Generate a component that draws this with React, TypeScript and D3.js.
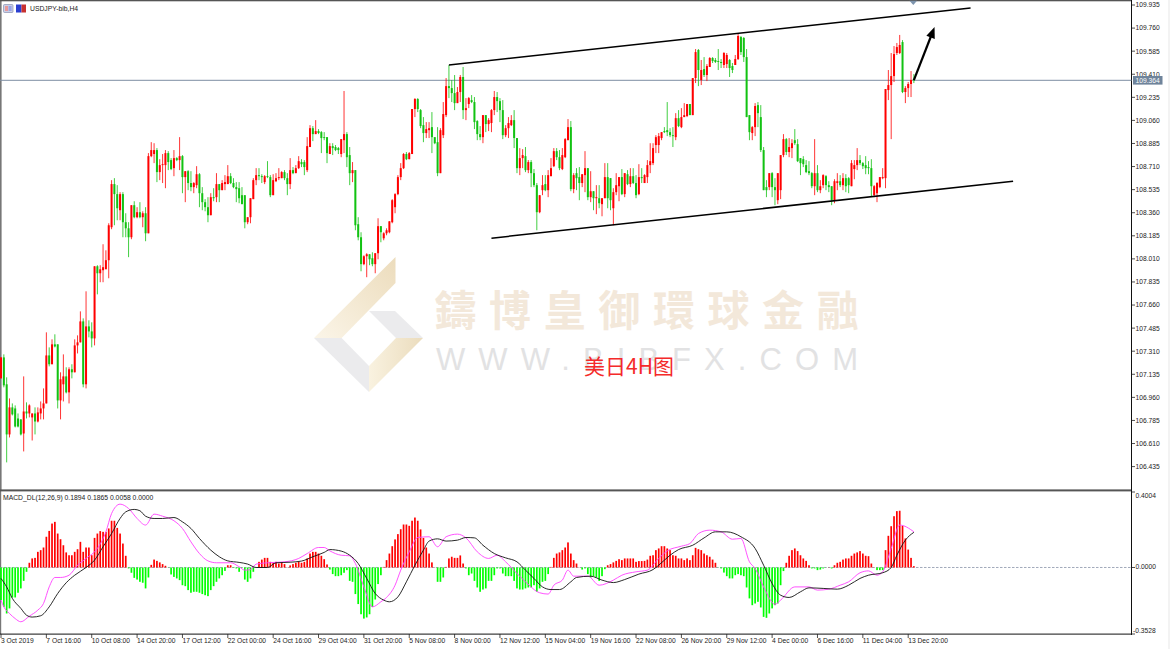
import React from "react";
import * as d3 from "d3";

// [open, high, low, close] per 4H bar
const octBars = [
[107.104,107.263,107.104,107.263],[107.263,107.286,107.036,107.051],[107.059,107.112,106.467,106.679],[106.679,106.952,106.656,106.884],[106.884,106.914,106.823,106.831],[106.876,106.899,106.732,106.739],[106.800,106.838,106.732,106.739],[106.793,106.793,106.671,106.679],[106.686,107.119,106.550,106.853],[106.853,106.922,106.800,106.838],
[106.838,106.907,106.808,106.899],[106.808,106.838,106.633,106.838],[106.838,106.884,106.679,106.777],[106.777,106.884,106.770,106.846],[106.838,106.929,106.793,106.876],[106.876,107.028,106.793,106.914],[106.914,107.453,106.914,107.278],[107.278,107.339,107.195,107.211],[107.211,107.400,107.211,107.362],[107.362,107.438,107.339,107.346],
[107.362,107.362,106.876,106.937],[106.937,107.150,106.793,107.097],[107.059,107.286,106.929,107.119],[107.119,107.188,106.990,106.998],[106.998,107.188,106.914,107.173],[107.173,107.211,107.104,107.150],[107.150,107.400,107.150,107.354],[107.354,107.430,107.293,107.377],[107.377,107.612,107.377,107.536],[107.536,107.559,107.036,107.059],
[107.059,107.764,107.028,107.498],[107.498,107.544,107.415,107.460],[107.460,107.529,107.339,107.407],[107.407,107.954,107.354,107.954],[107.954,107.962,107.741,107.901],[107.901,107.962,107.833,107.931],[107.924,108.121,107.833,107.947],[107.931,108.075,107.939,108.000],[108.000,108.280,107.863,108.265],[108.250,108.607,108.235,108.577],
[108.577,108.622,108.265,108.501],[108.501,108.569,108.303,108.394],[108.379,108.516,108.303,108.501],[108.501,108.516,108.174,108.288],[108.288,108.356,108.174,108.242],[108.242,108.288,108.023,108.174],[108.174,108.417,108.159,108.417],[108.417,108.447,108.318,108.326],[108.326,108.402,108.318,108.364],[108.364,108.440,108.318,108.326],
[108.326,108.371,108.250,108.356],[108.356,108.402,108.144,108.204],[108.204,108.812,108.204,108.789],[108.789,108.895,108.781,108.835],[108.805,108.887,108.736,108.835],[108.835,108.850,108.592,108.668],[108.668,108.766,108.607,108.721],[108.721,108.805,108.585,108.728],[108.721,108.835,108.546,108.812],[108.812,108.827,108.683,108.744],
[108.759,108.774,108.683,108.691],[108.698,108.835,108.637,108.774],[108.774,108.781,108.751,108.759],[108.759,108.933,108.683,108.789],[108.789,108.797,108.508,108.630],[108.630,108.675,108.440,108.675],[108.675,108.683,108.531,108.585],[108.585,108.675,108.523,108.554],[108.554,108.592,108.508,108.585],[108.569,108.713,108.546,108.652],
[108.652,108.660,108.402,108.508],[108.508,108.554,108.379,108.440],[108.440,108.463,108.371,108.402],[108.402,108.478,108.288,108.341],[108.341,108.508,108.341,108.478],[108.478,108.546,108.447,108.470],[108.478,108.660,108.440,108.577],[108.577,108.577,108.440,108.531],[108.531,108.607,108.531,108.585],[108.577,108.645,108.531,108.592],
[108.577,108.721,108.577,108.637],[108.637,108.660,108.577,108.585],[108.585,108.622,108.546,108.554],[108.554,108.592,108.440,108.539],[108.546,108.592,108.432,108.470],[108.493,108.554,108.425,108.425],[108.493,108.493,108.242,108.288],[108.288,108.326,108.273,108.326],[108.326,108.470,108.280,108.470],[108.463,108.622,108.463,108.607],
[108.607,108.698,108.569,108.645],[108.645,108.698,108.607,108.637],[108.637,108.652,108.585,108.630],[108.592,108.645,108.577,108.637],[108.637,108.751,108.622,108.630],[108.630,108.645,108.478,108.493],[108.493,108.652,108.493,108.607],[108.599,108.660,108.592,108.622],[108.622,108.698,108.607,108.630],[108.622,108.675,108.622,108.668],
[108.668,108.683,108.607,108.622],[108.622,108.660,108.493,108.577],[108.577,108.774,108.539,108.683],[108.683,108.706,108.652,108.660],[108.660,108.721,108.660,108.698],[108.698,108.789,108.691,108.751],[108.744,108.766,108.706,108.728],[108.744,108.759,108.645,108.706],[108.683,108.933,108.668,108.865],[108.858,109.024,108.858,109.001],
[109.001,109.017,108.903,108.956],[108.956,109.062,108.956,108.979],[108.979,108.994,108.956,108.964],[108.971,108.979,108.812,108.926],[108.933,108.971,108.910,108.926],[108.933,108.933,108.736,108.812],[108.805,108.887,108.805,108.865],[108.865,108.887,108.797,108.850],[108.858,108.873,108.827,108.835],[108.850,108.858,108.805,108.835],
[108.805,108.918,108.781,108.918],[108.910,109.283,108.812,108.956],[108.956,108.971,108.706,108.781],[108.797,108.858,108.569,108.660],[108.660,108.744,108.592,108.683],[108.683,108.683,108.227,108.265],[108.273,108.326,108.151,108.174],[108.174,108.212,107.916,107.970],[107.970,108.037,107.962,108.030],
];
const novBars = [
[108.030,108.053,107.871,108.045],[108.045,108.045,107.962,108.007],[108.015,108.060,107.954,107.970],[107.970,108.053,107.901,108.053],[108.053,108.318,108.007,108.258],[108.258,108.258,108.136,108.212],[108.166,108.212,108.151,108.204],[108.204,108.242,108.189,108.227],[108.212,108.295,108.204,108.295],[108.288,108.463,108.280,108.455],
[108.402,108.508,108.356,108.501],[108.501,108.645,108.493,108.630],[108.630,108.736,108.607,108.698],[108.698,108.812,108.691,108.805],[108.805,108.820,108.759,108.766],[108.766,108.820,108.766,108.812],[108.805,109.146,108.805,109.146],[109.146,109.229,109.085,109.222],[109.222,109.229,109.123,109.146],[109.138,109.146,109.001,109.017],
[109.024,109.085,108.895,108.964],[108.964,109.047,108.926,108.994],[108.986,109.047,108.926,109.001],[109.009,109.123,108.812,108.933],[108.933,108.933,108.880,108.887],[108.895,109.009,108.637,108.660],[108.660,109.001,108.660,108.986],[108.948,109.199,108.926,109.108],[109.100,109.381,109.085,109.320],[109.320,109.480,109.229,109.305],
[109.305,109.366,109.199,109.267],[109.267,109.404,109.138,109.191],[109.191,109.313,109.191,109.275],[109.275,109.404,109.199,109.389],[109.389,109.465,109.070,109.138],[109.138,109.229,109.062,109.153],[109.184,109.237,109.153,109.229],[109.214,109.252,109.191,109.199],[109.199,109.237,108.994,109.047],[109.055,109.062,108.910,108.956],
[108.956,109.017,108.910,108.933],[108.933,109.100,108.887,109.100],[109.100,109.100,108.971,109.032],[109.032,109.077,108.979,109.062],[109.040,109.146,108.971,109.138],[109.138,109.283,109.100,109.237],[109.237,109.275,109.123,109.206],[109.206,109.229,109.047,109.138],[109.138,109.214,108.918,108.948],[108.948,109.024,108.933,109.001],
[109.001,109.085,108.926,109.040],[109.024,109.100,109.017,109.062],[109.062,109.138,108.850,108.926],[108.926,108.926,108.660,108.698],[108.698,108.850,108.645,108.774],[108.774,108.842,108.698,108.797],[108.789,108.858,108.668,108.683],[108.683,108.759,108.660,108.744],[108.744,108.759,108.554,108.660],[108.660,108.691,108.554,108.569],
[108.569,108.585,108.227,108.364],[108.364,108.493,108.356,108.493],[108.531,108.645,108.493,108.569],[108.577,108.645,108.523,108.531],[108.531,108.683,108.478,108.645],[108.637,108.774,108.637,108.698],[108.713,108.850,108.706,108.827],[108.827,108.850,108.759,108.781],[108.781,108.835,108.683,108.698],[108.691,108.850,108.683,108.797],
[108.781,108.926,108.774,108.918],[108.910,109.070,108.910,109.009],[109.009,109.055,108.523,108.539],[108.539,108.660,108.508,108.645],[108.660,108.698,108.531,108.622],[108.630,108.706,108.455,108.585],[108.585,108.652,108.554,108.652],[108.645,108.827,108.516,108.698],[108.698,108.698,108.455,108.478],[108.478,108.675,108.440,108.523],
[108.523,108.523,108.379,108.470],[108.470,108.569,108.349,108.478],[108.470,108.569,108.394,108.432],[108.425,108.470,108.333,108.470],[108.470,108.736,108.470,108.630],[108.630,108.736,108.394,108.470],[108.622,108.622,108.379,108.455],[108.394,108.546,108.265,108.516],[108.516,108.660,108.493,108.569],[108.561,108.630,108.447,108.630],
[108.630,108.691,108.493,108.501],[108.501,108.660,108.478,108.660],[108.652,108.683,108.569,108.577],[108.577,108.698,108.554,108.637],[108.637,108.698,108.577,108.585],[108.585,108.645,108.470,108.493],[108.501,108.728,108.493,108.630],[108.630,108.698,108.585,108.622],[108.585,108.652,108.585,108.645],[108.630,108.759,108.585,108.721],
[108.721,108.887,108.660,108.751],[108.736,108.887,108.721,108.850],[108.873,108.948,108.812,108.933],[108.873,108.964,108.812,108.941],[108.926,108.971,108.910,108.971],[108.979,109.009,108.964,108.971],[108.986,109.199,108.941,108.971],[108.971,109.001,108.933,108.948],[108.948,109.009,108.858,108.941],[108.933,109.115,108.910,109.077],
[109.077,109.138,109.009,109.017],[109.009,109.153,109.001,109.085],[109.085,109.191,109.085,109.100],[109.093,109.184,109.085,109.184],[109.184,109.184,109.100,109.100],[109.100,109.381,109.100,109.381],[109.381,109.601,109.343,109.578],[109.594,109.601,109.320,109.442],[109.366,109.518,109.328,109.442],[109.449,109.540,109.389,109.404],
[109.404,109.487,109.358,109.472],[109.465,109.540,109.465,109.533],[109.533,109.540,109.495,109.510],[109.518,109.533,109.495,109.503],[109.510,109.601,109.442,109.503],[109.503,109.525,109.457,109.495],[109.480,109.578,109.457,109.571],[109.487,109.571,109.457,109.556],[109.518,109.525,109.389,109.457],[109.472,109.495,109.419,109.442],
[109.480,109.556,109.480,109.525],[109.525,109.715,109.518,109.700],
];
const decBars = [
[109.692,109.700,109.556,109.578],[109.685,109.692,109.503,109.540],[109.540,109.601,109.085,109.085],[109.100,109.100,108.910,108.971],[108.964,109.017,108.910,109.009],[109.009,109.191,108.941,109.169],[109.176,109.199,109.009,109.115],[109.085,109.176,108.820,108.835],[108.835,108.858,108.531,108.531],
[108.554,108.607,108.478,108.531],[108.554,108.660,108.531,108.660],[108.660,108.668,108.478,108.554],[108.554,108.622,108.417,108.531],[108.455,108.660,108.425,108.660],[108.531,108.797,108.463,108.797],[108.797,108.956,108.781,108.918],[108.918,108.926,108.797,108.820],[108.820,108.926,108.781,108.858],[108.850,108.918,108.774,108.887],
[108.910,108.994,108.873,108.887],[108.880,108.918,108.744,108.751],[108.774,108.774,108.645,108.736],[108.766,108.789,108.706,108.728],[108.721,108.759,108.660,108.668],[108.675,108.751,108.645,108.660],[108.660,108.668,108.546,108.561],[108.561,108.918,108.493,108.660],[108.660,108.721,108.516,108.531],[108.531,108.607,108.508,108.561],
[108.569,108.652,108.546,108.645],[108.637,108.645,108.531,108.569],[108.569,108.599,108.516,108.554],[108.561,108.561,108.417,108.455],[108.455,108.614,108.432,108.599],[108.585,108.660,108.531,108.599],[108.599,108.645,108.554,108.569],[108.569,108.660,108.531,108.622],[108.622,108.652,108.516,108.561],[108.622,108.630,108.508,108.569],
[108.561,108.759,108.561,108.736],[108.691,108.759,108.614,108.721],[108.721,108.850,108.683,108.759],[108.759,108.797,108.721,108.736],[108.736,108.744,108.691,108.713],[108.721,108.789,108.652,108.698],[108.706,108.751,108.652,108.698],[108.698,108.766,108.485,108.561],[108.493,108.569,108.478,108.561],[108.508,108.592,108.440,108.585],
[108.554,108.630,108.546,108.630],[108.622,108.698,108.614,108.630],[108.622,109.298,108.546,109.298],[109.290,109.442,109.214,109.328],[109.328,109.571,108.918,109.396],[109.396,109.624,109.351,109.563],[109.571,109.647,109.556,109.616],[109.571,109.708,109.563,109.632],[109.654,109.669,109.267,109.275],[109.275,109.320,109.191,109.305],
[109.305,109.351,109.237,109.336],[109.336,109.434,109.237,109.366],[109.374,109.411,109.343,109.364],
];

const histogramOct = [
-.173,-.209,-.244,-.217,-.159,-.159,-.134,-.111,-.071,-.023,.025,.048,.051,.083,.092,.106,.163,.194,.233,.242,.180,.150,.118,.080,.065,.065,.083,.097,.136,.083,.106,.106,.065,.157,.180,.193,.189,.189,.207,.248,.248,.210,.180,.127,.062,
-.005,-.028,-.055,-.064,-.076,-.081,-.111,-.053,.014,.042,.035,.027,.018,.009,-.001,-.037,-.050,-.058,-.067,-.094,-.099,-.120,-.134,-.129,-.129,-.134,-.141,-.147,-.152,-.120,-.099,-.076,-.058,-.041,-.018,
.012,.012,-.002,-.005,-.023,-.002,-.064,-.076,-.058,-.023,-.002,.030,.042,.051,.051,.030,.025,.030,.021,.025,.018,.001,.011,.018,.025,.030,.025,.030,.048,.074,.083,.083,.074,.062,.044,.016,-.011,
];
const histogramNov = [
-.035,-.046,-.046,-.041,-.028,-.014,-.071,-.076,-.141,-.194,-.248,-.271,-.265,-.248,-.209,-.170,-.088,-.041,.003,.039,.074,.113,.149,.177,.203,.228,.228,.221,.248,.265,.248,.202,.157,.106,.074,.027,.001,
-.076,-.076,-.053,.003,.048,.057,.051,.051,.064,.021,-.005,-.041,-.032,-.071,-.106,-.129,-.117,-.111,-.071,-.071,-.041,-.005,-.005,-.032,-.046,-.046,-.046,-.071,-.111,-.117,-.117,-.111,-.106,-.106,-.094,-.129,-.111,-.076,-.071,-.035,
.003,.051,.074,.080,.092,.106,.133,.074,.039,.021,.001,-.011,-.005,-.035,-.053,-.046,-.053,-.071,-.046,-.009,.012,.018,.027,.035,.044,.039,.048,.048,.048,.048,.030,.034,.034,.035,.042,.062,.065,.092,.101,
];
const histogramDec = [
.113,.113,.101,.092,.065,.062,.048,.048,.039,.048,.039,.065,.104,.097,.092,.074,.065,.057,.042,.025,-.001,-.005,-.027,-.046,-.058,-.058,-.041,-.035,-.041,-.046,-.106,-.164,-.200,-.191,-.182,-.212,-.262,-.267,-.244,-.217,-.200,-.191,-.094,-.019,
.025,.062,.092,.101,.087,.065,.048,.035,.012,-.005,-.005,-.014,-.011,-.005,-.001,.001,-.005,.012,.025,.030,.042,.048,.048,.062,.074,.080,.087,.074,.062,.060,.021,.001,-.014,-.014,-.014,.092,.168,.219,.272,.299,.301,.221,.154,.095,.051,.007,
];

const signalBars = [0,2,4,7,9,11,14,17,20,23,26,30,33,36,39,42,44,47,49,51,54,57,61,64,67,70,74,77,80,84,87,90,94,97,102,106,110,114,116,120,123,126,129,132,135,137,140,143,146,149,151,154,157,161,164,167,170,174,178,182,185,188,191,194,197,201,203,208,212,216,220,225,230,232,236,239,244,248,252,256,261,266,269,272,275,278,282,285,290,295,299,303,306,311,314,316,319,322];
const signalValues = [-.058,-.103,-.164,-.217,-.253,-.263,-.256,-.209,-.138,-.081,-.041,0,.039,.110,.180,.260,.295,.308,.301,.272,.260,.260,.265,.242,.207,.154,.092,.057,.035,.027,.018,0,0,.025,.028,.034,.057,.080,.095,.087,.065,.021,-.058,-.138,-.173,-.182,-.156,-.076,.012,.092,.140,.152,.140,.145,.159,.157,.118,.074,.051,.030,-.014,-.058,-.103,-.117,-.117,-.076,-.053,-.046,-.067,-.080,-.064,-.035,-.011,.012,.065,.095,.118,.157,.189,.189,.163,.101,.012,-.085,-.147,-.159,-.129,-.108,-.111,-.115,-.094,-.058,-.041,-.028,0,.065,.145,.1865];
const macdBars = [0,1,3,5,7,10,13,15,17,19,21,24,27,30,34,37,39,42,45,48,51,54,57,61,64,67,70,73,76,81,84,86,88,90,94,100,105,108,112,114,116,120,123,125,128,131,134,136,139,141,144,147,151,154,157,161,164,168,172,175,178,182,185,190,193,195,198,200,202,207,211,216,219,224,228,232,235,240,243,246,250,254,258,261,264,266,269,273,275,280,285,288,292,296,299,303,306,309,311,314,317,322];
const macdValues = [-.173,-.209,-.244,-.271,-.288,-.258,-.226,-.191,-.103,-.053,-.053,-.041,.012,.048,.101,.189,.286,.336,.313,.260,.225,.283,.272,.248,.207,.136,.074,.035,.025,.025,.004,-.014,-.011,.018,.025,.030,.048,.074,.106,.106,.088,.065,.062,.021,-.103,-.209,-.182,-.159,-.094,-.014,.083,.159,.163,.110,.163,.177,.157,.083,.048,.065,.030,-.032,-.076,-.134,-.141,-.094,-.067,-.014,-.046,-.046,-.094,-.067,-.041,-.023,-.014,.048,.088,.113,.127,.180,.198,.189,.150,.154,.030,-.005,-.103,-.195,-.173,-.103,-.103,-.120,-.115,-.094,-.076,-.028,-.018,-.041,-.023,.101,.225,.1894];

const priceTicks = ["109.935","109.760","109.585","109.410","109.235","109.060","108.885","108.710","108.535","108.360","108.185","108.010","107.835","107.660","107.485","107.310","107.135","106.960","106.785","106.610","106.435"];
const timeTicks = ["3 Oct 2019","7 Oct 16:00","10 Oct 08:00","14 Oct 20:00","17 Oct 12:00","22 Oct 00:00","24 Oct 16:00","29 Oct 04:00","31 Oct 20:00","5 Nov 08:00","8 Nov 00:00","12 Nov 12:00","15 Nov 04:00","19 Nov 16:00","22 Nov 08:00","26 Nov 20:00","29 Nov 12:00","4 Dec 00:00","6 Dec 16:00","11 Dec 04:00","13 Dec 20:00"];
const barsPerTimeTick = 16;
const lastPrice = 109.364;
const upperChannel = [[158, 109.48], [342, 109.912]];
const lowerChannel = [[173, 108.167], [357, 108.599]];
const arrowPath = [[322, 109.366], [329.3, 109.768]];

const bars = [...octBars, ...novBars, ...decBars];
const histogram = [...histogramOct, ...histogramNov, ...histogramDec];

const FONT = "'Liberation Sans', Arial, sans-serif";
const AXIS_X = 1131.5;

export default function App() {
  const x = d3.scaleLinear().domain([0, 322]).range([1, 1 + 2.835 * 322]);
  const y = d3.scaleLinear().domain([106.435, 109.935]).range([466.6, 5]);
  const m = d3.scaleLinear().domain([-0.3528, 0.4004]).range([634, 492]);

  const lineM = d3.line<number>().x((_, i) => x(macdBars[i])).y((v) => m(v)).curve(d3.curveMonotoneX);
  const lineS = d3.line<number>().x((_, i) => x(signalBars[i])).y((v) => m(v)).curve(d3.curveMonotoneX);

  const [a0, a1] = arrowPath;
  const ax0 = x(a0[0]), ay0 = y(a0[1]), ax1 = x(a1[0]), ay1 = y(a1[1]);
  const ang = Math.atan2(ay1 - ay0, ax1 - ax0);
  const hp = (d: number, o: number) => `${ax1 - d * Math.cos(ang) - o * Math.sin(ang)},${ay1 - d * Math.sin(ang) + o * Math.cos(ang)}`;

  return (
    <svg width={1170} height={649} style={{ position: "absolute", left: 0, top: 0, display: "block", background: "#fff" }}>
      <defs>
        <linearGradient id="beigeA" x1="0" y1="1" x2="1" y2="0">
          <stop offset="0" stopColor="#fbf5e8" />
          <stop offset="1" stopColor="#ecdcbc" />
        </linearGradient>
        <linearGradient id="beigeB" x1="0" y1="0" x2="1" y2="0">
          <stop offset="0" stopColor="#f9f2e0" />
          <stop offset="1" stopColor="#ebdcbd" />
        </linearGradient>
      </defs>
      {/* watermark */}
      <polygon points="395.5,257 395.5,283 341.6,338 314,338" fill="url(#beigeA)" />
      <polygon points="369,311 395,311 423,338 396,338" fill="#ebebed" />
      <polygon points="314,338 341.6,338 369,366 369,392" fill="#ebebed" />
      <polygon points="396,338 423,338 369,392 369,366" fill="url(#beigeB)" />
      <text x={434.5} y={326} fontFamily="'Noto Sans CJK TC'" fontSize={42} fontWeight={700} fill="#f3e8da" letterSpacing={12.6}>鑄博皇御環球金融</text>
      <text x={436} y={370} fontFamily={FONT} fontSize={31} fill="#e2e2e3" textLength={422} lengthAdjust="spacing">WWW.BIBFX.COM</text>

      {/* frame */}
      <rect x={0} y={0} width={1.6} height={491} fill="#777" />
      <rect x={0} y={491} width={1.2} height={143} fill="#777" />
      <rect x={0} y={0} width={AXIS_X} height={1.3} fill="#555" />
      <rect x={0} y={489.4} width={AXIS_X} height={2} fill="#555" />
      <rect x={0} y={633.6} width={AXIS_X} height={1} fill="#111" />
      <rect x={AXIS_X - 0.5} y={0} width={1} height={635} fill="#111" />
      <rect x={1168} y={0} width={2} height={649} fill="#f3f3f3" />

      {/* last price line */}
      <line x1={0} x2={AXIS_X} y1={y(lastPrice)} y2={y(lastPrice)} stroke="#7e8ea3" strokeWidth={1} />

      {/* candles */}
      {bars.map((b, i) => {
        const [o, h, l, c] = b;
        const up = c >= o;
        const col = up ? "#ff0000" : "#12c212";
        const top = y(Math.max(o, c));
        const bot = y(Math.min(o, c));
        return (
          <g key={i}>
            <line x1={x(i)} x2={x(i)} y1={y(h)} y2={y(l)} stroke={col} strokeWidth={0.8} />
            <rect x={x(i) - 1} y={top} width={2} height={Math.max(bot - top, 0.8)} fill={col} />
          </g>
        );
      })}

      {/* channel + arrow */}
      {[upperChannel, lowerChannel].map((t, i) => (
        <line key={i} x1={x(t[0][0])} y1={y(t[0][1])} x2={x(t[1][0])} y2={y(t[1][1])} stroke="#000" strokeWidth={1.5} />
      ))}
      <line x1={ax0} y1={ay0} x2={ax0 + (ax1 - ax0) * 0.85} y2={ay0 + (ay1 - ay0) * 0.85} stroke="#000" strokeWidth={2.2} />
      <polygon points={`${ax1},${ay1} ${hp(11, 4.5)} ${hp(11, -4.5)}`} fill="#000" />
      <polygon points="909.5,0.8 917,0.8 913.3,5" fill="#7e95ae" />

      {/* price axis */}
      {priceTicks.map((t) => (
        <g key={t}>
          <line x1={AXIS_X} x2={AXIS_X + 3.5} y1={y(+t)} y2={y(+t)} stroke="#222" strokeWidth={0.8} />
          <text x={1135.5} y={y(+t) + 2.4} fontFamily={FONT} fontSize={6.7} fill="#222">{t}</text>
        </g>
      ))}
      <rect x={1133} y={76} width={29.5} height={8.6} fill="#6f849b" />
      <text x={1135.5} y={y(lastPrice) + 2.4} fontFamily={FONT} fontSize={6.7} fill="#fff">{lastPrice.toFixed(3)}</text>

      {/* header */}
      <rect x={3.5} y={4.5} width={9.5} height={8} rx={1} fill="#c9cfe8" stroke="#8a90b0" strokeWidth={0.7} />
      <rect x={5} y={6} width={3} height={5} fill="#e89a9a" />
      <rect x={8.6} y={6} width={3} height={5} fill="#9aa4e8" />
      <rect x={16} y={4.5} width={5.5} height={8} fill="#2b3fd0" />
      <rect x={21.5} y={4.5} width={4.5} height={8} fill="#c83030" />
      <text x={30} y={11} fontFamily={FONT} fontSize={6.8} fill="#222">USDJPY-bib,H4</text>

      {/* MACD pane */}
      <line x1={0} x2={AXIS_X} y1={m(0)} y2={m(0)} stroke="#8a94a8" strokeWidth={0.8} strokeDasharray="2.5 1.5" />
      {histogram.map((v, i) => (
        <rect key={i} x={x(i) - 0.85} y={Math.min(m(v), m(0))} width={1.7} height={Math.abs(m(v) - m(0))} fill={v >= 0 ? "#ff0000" : "#00ff00"} />
      ))}
      <path d={lineM(macdValues) ?? ""} fill="none" stroke="#ff40ff" strokeWidth={0.9} />
      <path d={lineS(signalValues) ?? ""} fill="none" stroke="#111" strokeWidth={0.9} />
      <text x={3} y={500} fontFamily={FONT} fontSize={6.8} fill="#222">MACD_DL(12,26,9) 0.1894 0.1865 0.0058 0.0000</text>
      {[["0.4004", 0.4004], ["0.0000", 0], ["-0.3528", -0.3528]].map(([t, v]) => (
        <g key={t as string}>
          <line x1={AXIS_X} x2={AXIS_X + 3.5} y1={m(v as number)} y2={m(v as number)} stroke="#222" strokeWidth={0.8} />
          <text x={t === "-0.3528" ? 1133 : 1135.5} y={(t === "0.4004" ? 498 : t === "-0.3528" ? 633 : 569)} fontFamily={FONT} fontSize={6.7} fill="#222">{t}</text>
        </g>
      ))}

      {/* time axis */}
      {timeTicks.map((t, i) => (
        <g key={t}>
          <line x1={x(i * barsPerTimeTick)} x2={x(i * barsPerTimeTick)} y1={634} y2={638} stroke="#222" strokeWidth={0.8} />
          <text x={x(i * barsPerTimeTick)} y={643} fontFamily={FONT} fontSize={6.7} fill="#222">{t}</text>
        </g>
      ))}

      <text x={584} y={374} fontFamily="'Noto Sans CJK SC'" fontSize={21} fill="#f42a2a">美日4H图</text>
    </svg>
  );
}
